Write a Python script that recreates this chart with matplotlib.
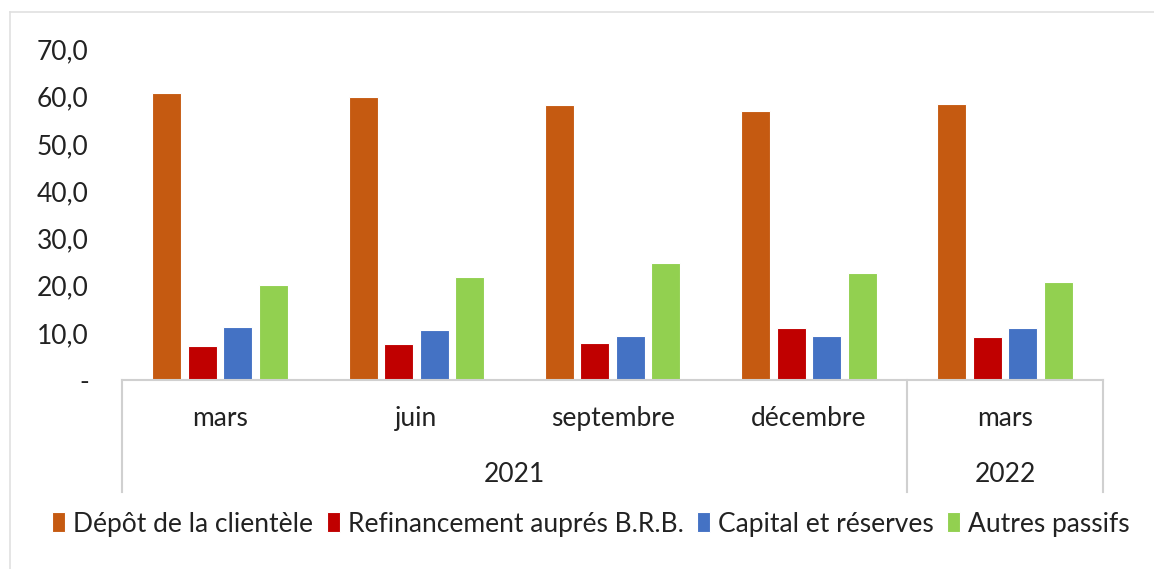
import matplotlib.pyplot as plt
import numpy as np
from matplotlib.lines import Line2D

# données
mois = ["mars", "juin", "septembre", "décembre", "mars"]
annees = ["2021", "2022"]
series = ["Dépôt de la clientèle", "Refinancement auprés B.R.B.",
          "Capital et réserves", "Autres passifs"]
depot = [60.7, 60.0, 58.3, 57.0, 58.5]
refinancement = [7.2, 7.6, 7.8, 11.0, 9.1]
capital = [11.3, 10.6, 9.3, 9.3, 11.0]
autres = [20.2, 21.8, 24.8, 22.7, 20.8]
couleurs = ["#C55A11", "#C00000", "#4472C4", "#92D050"]

plt.rcParams['font.family'] = ['Lato', 'DejaVu Sans']
fig = plt.figure(figsize=(11.54, 5.69), dpi=100)
ax = fig.add_axes([0.1057, 0.332, 0.8503, 0.581])

x = np.arange(len(mois))
pas = 0.181
larg = 0.148
valeurs = [depot, refinancement, capital, autres]
for i, (v, c, nom) in enumerate(zip(valeurs, couleurs, series)):
    ax.bar(x + (i - 1.5) * pas, v, width=larg, color=c, label=nom,
           edgecolor="white", linewidth=0.8)

ax.set_xlim(-0.5, 4.5)
ax.set_ylim(0, 70)
ax.set_yticks(np.arange(0, 71, 10))
ax.set_yticklabels(["-" if t == 0 else f"{t:.1f}".replace(".", ",")
                    for t in np.arange(0, 71, 10)])
ax.tick_params(axis="y", length=0, pad=24, labelsize=19, labelcolor="#222222")
ax.set_xticks([])
for s in ["top", "right", "left"]:
    ax.spines[s].set_visible(False)
ax.spines["bottom"].set_color("#D0D0D0")
ax.spines["bottom"].set_linewidth(1.5)

tr = ax.get_xaxis_transform()
for xi, m in zip(x, mois):
    ax.text(xi, -0.115, m, transform=tr, ha="center", va="center",
            fontsize=19, color="#222222")
ax.text(1.5, -0.287, annees[0], transform=tr, ha="center", va="center",
        fontsize=19, color="#222222")
ax.text(4.0, -0.287, annees[1], transform=tr, ha="center", va="center",
        fontsize=19, color="#222222")
for xs in [-0.5, 3.5, 4.5]:
    ax.plot([xs, xs], [0, -0.339], transform=tr, color="#D0D0D0",
            linewidth=1.5, clip_on=False)

# cadre du graphique
fig.add_artist(Line2D([10 / 1154, 10 / 1154], [0, 1 - 12 / 569],
                      transform=fig.transFigure, color="#E0E0E0", linewidth=1.2))
fig.add_artist(Line2D([10 / 1154, 1], [1 - 12 / 569, 1 - 12 / 569],
                      transform=fig.transFigure, color="#E0E0E0", linewidth=1.2))

fig.legend(loc="center", bbox_to_anchor=(0.512, 0.079), ncol=4, frameon=False,
           fontsize=19, handlelength=0.5, handleheight=0.8, handletextpad=0.3,
           columnspacing=0.5, labelcolor="#222222")

fig.savefig("out.png", dpi=100)
